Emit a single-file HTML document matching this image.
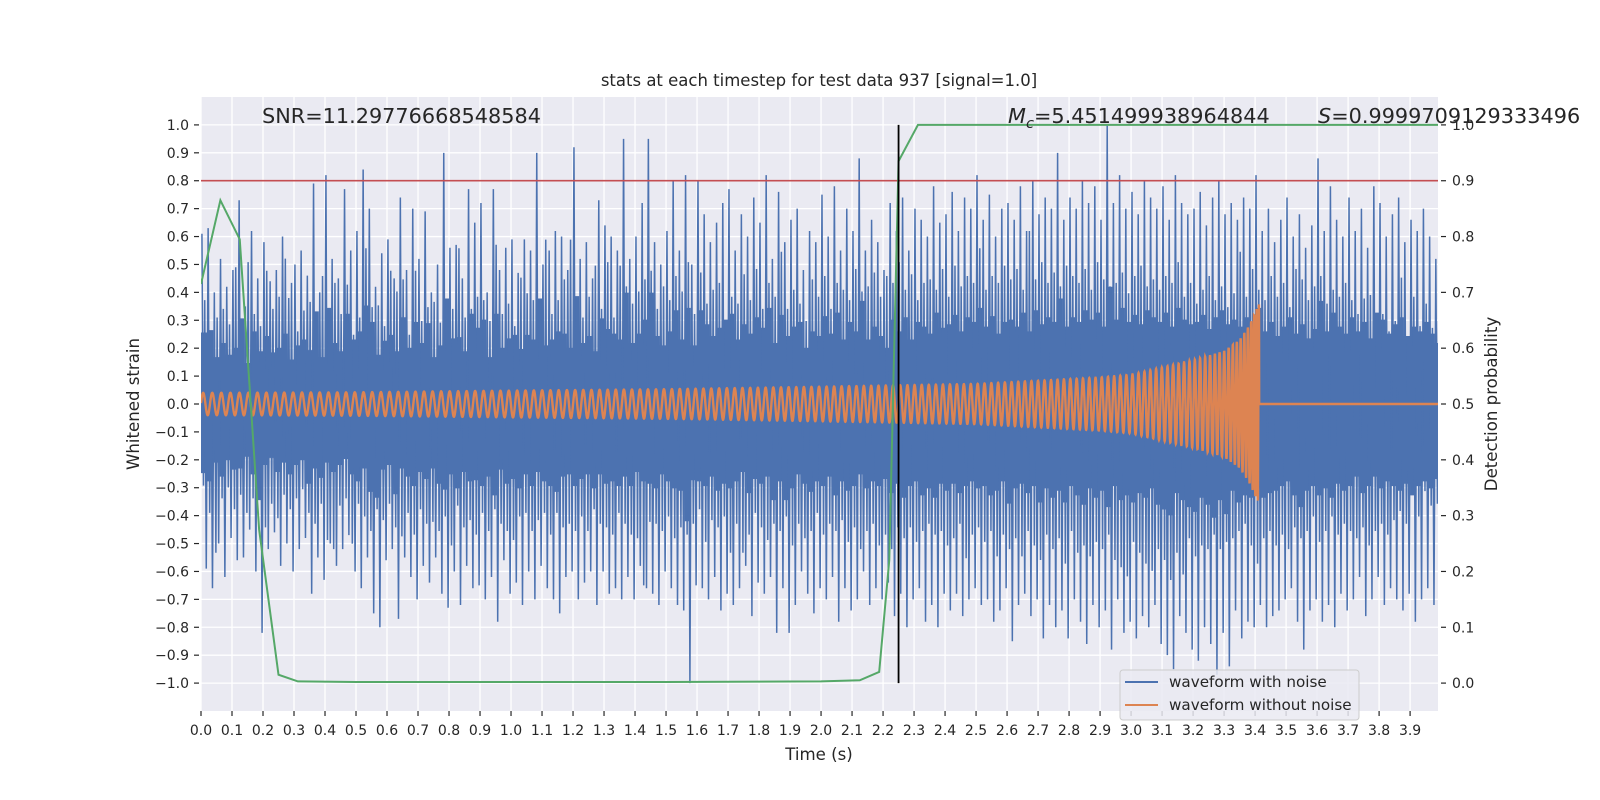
<!DOCTYPE html>
<html><head><meta charset="utf-8"><style>
body{margin:0;background:#fff;}
svg{display:block;font-family:"DejaVu Sans","Liberation Sans",sans-serif;}
</style></head><body>
<svg id="chart" width="1600" height="800" viewBox="0 0 1600 800" xmlns="http://www.w3.org/2000/svg">
<rect x="0" y="0" width="1600" height="800" fill="#fff"/>
<rect x="201" y="97" width="1237" height="614" fill="#eaeaf2"/>
<g id="grid"></g>
<g id="series" clip-path="url(#clip)"></g>
<defs><clipPath id="clip"><rect x="201" y="97" width="1237" height="614"/></clipPath></defs>
<g id="axes"></g>
<text x="819" y="86" text-anchor="middle" font-size="16.5" fill="#262626">stats at each timestep for test data 937 [signal=1.0]</text>
<text x="262" y="123" font-size="20.8" fill="#262626">SNR=11.29776668548584</text>
<text x="1008" y="123" font-size="20.8" fill="#262626"><tspan font-style="italic">M</tspan><tspan font-style="italic" font-size="14.5" dy="5">c</tspan><tspan dy="-5">=5.451499938964844</tspan></text>
<text x="1318" y="123" font-size="20.8" fill="#262626"><tspan font-style="italic">S</tspan>=0.9999709129333496</text>
<text transform="translate(139,404) rotate(-90)" text-anchor="middle" font-size="16.6" fill="#262626">Whitened strain</text>
<text transform="translate(1497,404) rotate(-90)" text-anchor="middle" font-size="16.6" fill="#262626">Detection probability</text>
<text x="819" y="760" text-anchor="middle" font-size="16.6" fill="#262626">Time (s)</text>
<g>
<rect x="1120" y="670" width="239" height="50" rx="3" fill="#eaeaf2" fill-opacity="0.85" stroke="#cccccc"/>
<line x1="1125" y1="682" x2="1158" y2="682" stroke="#4c72b0" stroke-width="2"/>
<text x="1169" y="687" font-size="15.2" fill="#262626">waveform with noise</text>
<line x1="1125" y1="705" x2="1158" y2="705" stroke="#dd8452" stroke-width="2"/>
<text x="1169" y="710" font-size="15.2" fill="#262626">waveform without noise</text>
</g>
</svg>
<script>
const noiseHi=[.61,.63,.40,.52,.42,.48,.73,.35,.62,.45,.58,.44,.48,.60,.38,.50,.55,.46,.79,.40,.82,.52,.45,.77,.55,.62,.84,.70,.42,.54,.59,.45,.74,.48,.70,.52,.69,.40,.50,.90,.56,.57,.45,.77,.65,.72,.40,.77,.48,.56,.59,.47,.59,.55,.90,.50,.55,.62,.60,.48,.92,.52,.58,.45,.73,.64,.60,.55,.95,.52,.60,.72,.95,.58,.50,.62,.80,.55,.82,.50,.80,.68,.58,.65,.72,.77,.55,.68,.60,.74,.65,.82,.52,.76,.58,.66,.70,.48,.62,.58,.75,.60,.78,.55,.70,.62,.88,.55,.66,.58,.48,.72,.62,.74,.55,.70,.66,.60,.78,.65,.68,.76,.62,.74,.70,.82,.66,.75,.60,.70,.72,.66,.78,.62,.80,.68,.74,.70,.90,.66,.74,.70,.80,.72,.78,.66,1.0,.72,.82,.70,.76,.68,.80,.74,.70,.78,.66,.82,.72,.68,.70,.76,.64,.74,.80,.68,.72,.66,.74,.70,.82,.62,.70,.58,.66,.74,.60,.68,.56,.64,.88,.62,.78,.66,.60,.74,.62,.70,.56,.78,.72,.60,.68,.74,.58,.66,.62,.70,.60,.52];
const noiseLo=[-.59,-.66,-.50,-.62,-.48,-.56,-.55,-.45,-.60,-.82,-.52,-.46,-.58,-.50,-.60,-.52,-.48,-.68,-.55,-.63,-.50,-.58,-.52,-.47,-.60,-.66,-.55,-.75,-.80,-.56,-.52,-.77,-.55,-.62,-.70,-.58,-.64,-.55,-.68,-.73,-.60,-.72,-.58,-.66,-.65,-.70,-.62,-.78,-.56,-.68,-.64,-.72,-.60,-.70,-.58,-.66,-.70,-.75,-.62,-.60,-.70,-.64,-.60,-.72,-.60,-.68,-.66,-.70,-.62,-.70,-.58,-.66,-.68,-.72,-.60,-.66,-.72,-.74,-1.0,-.65,-.66,-.70,-.62,-.74,-.68,-.72,-.66,-.58,-.76,-.64,-.68,-.62,-.82,-.66,-.82,-.72,-.60,-.68,-.75,-.66,-.70,-.62,-.78,-.66,-.74,-.70,-.60,-.72,-.66,-.70,-.64,-.76,-.68,-.80,-.70,-.66,-.78,-.72,-.80,-.68,-.74,-.68,-.76,-.70,-.66,-.72,-.70,-.78,-.74,-.66,-.85,-.72,-.68,-.76,-.70,-.84,-.72,-.80,-.74,-.84,-.70,-.78,-.86,-.72,-.80,-.74,-.88,-.70,-.82,-.78,-.84,-.76,-.80,-.72,-.86,-.90,-.95,-.76,-.82,-.88,-.92,-.80,-.86,-.97,-.82,-.94,-.74,-.84,-.78,-.80,-.72,-.80,-.76,-.74,-.70,-.66,-.78,-.88,-.74,-.70,-.78,-.72,-.80,-.68,-.74,-.70,-.62,-.76,-.70,-.62,-.72,-.66,-.70,-.74,-.68,-.78,-.70,-.66,-.72,-.64];
const noiseBin=0.02;
const envT=[0,0.5,1,1.5,2,2.5,2.9,3.0,3.2,3.3,3.35,3.38,3.413];
const envA=[0.04,0.042,0.048,0.053,0.062,0.072,0.095,0.105,0.157,0.19,0.23,0.28,0.36];
const freqT=[0,1,2,2.5,3,3.2,3.3,3.38,3.413];
const freqF=[34,37,41,45,51,58,68,90,140];
const chirpEnd=3.413;
const probT=[0,0.0625,0.125,0.1875,0.25,0.3125,0.5,1.0,1.5,2.0,2.125,2.1875,2.22,2.25,2.3125,3.0,3.99];
const probV=[0.715,0.865,0.795,0.275,0.015,0.003,0.002,0.002,0.002,0.003,0.005,0.02,0.22,0.935,1.0,1.0,1.0];
const detectT=2.25;
const threshold=0.8;
const xTicks=[...Array(40).keys()].map(i=>i/10);
const yTicks=[...Array(21).keys()].map(i=>-1+i/10);
const pTicks=[...Array(11).keys()].map(i=>i/10);

const NS='http://www.w3.org/2000/svg';
const X0=201,X1=1438,XMAX=3.99,Y0=711,Y1=97;
const xs=t=>X0+t/XMAX*(X1-X0);
const ys=v=>Y0-(v+1.1)/2.2*(Y0-Y1);
const ps=p=>ys(p*2-1);
function mk(tag,attrs,parent){const e=document.createElementNS(NS,tag);for(const k in attrs)e.setAttribute(k,attrs[k]);parent.appendChild(e);return e;}
function interp(T,V,t){if(t<=T[0])return V[0];for(let i=1;i<T.length;i++){if(t<=T[i]){const f=(t-T[i-1])/(T[i]-T[i-1]);return V[i-1]+f*(V[i]-V[i-1]);}}return V[V.length-1];}
const grid=document.getElementById('grid'),ser=document.getElementById('series'),axes=document.getElementById('axes');
xTicks.forEach(t=>{
  const g=mk('line',{x1:xs(t),x2:xs(t),y1:Y1,y2:Y0,stroke:'#fff','stroke-width':1.3},grid);
  
  
  const tk=mk('line',{x1:xs(t),x2:xs(t),y1:Y0,y2:Y0+5,stroke:'#262626','stroke-width':1.2},axes);
  
  
  const l=mk('text',{x:xs(t),y:Y0+24,'text-anchor':'middle','font-size':14,fill:'#262626'},axes);
  l.textContent=t.toFixed(1);
  
  
});
yTicks.forEach(v=>{
  const g=mk('line',{x1:X0,x2:X1,y1:ys(v),y2:ys(v),stroke:'#fff','stroke-width':1.3},grid);
  
  
  const tk=mk('line',{x1:X0-7,x2:X0-2,y1:ys(v),y2:ys(v),stroke:'#262626','stroke-width':1.2},axes);
  
  
  const l=mk('text',{x:X0-12,y:ys(v)+5,'text-anchor':'end','font-size':14,fill:'#262626'},axes);
  l.textContent=(v<-0.001?'\u2212':'')+Math.abs(v).toFixed(1);
  
  
});
pTicks.forEach(p=>{
  const tk=mk('line',{x1:X1+3,x2:X1+8,y1:ps(p),y2:ps(p),stroke:'#262626','stroke-width':1.2},axes);
  
  
  const l=mk('text',{x:X1+14,y:ps(p)+5,'font-size':14,fill:'#262626'},axes);
  l.textContent=p.toFixed(1);
  
  
});
// noisy waveform
const bw=xs(noiseBin)-xs(0);
let core='';
noiseHi.forEach((h,i)=>{
  const lo=noiseLo[i],x=xs(i*noiseBin);
  core+=`M${x},${ys(h*0.42)}h${bw}V${ys(lo*0.42)}h${-bw}Z`;
});
const c=mk('path',{d:core,fill:'#4c72b0'},ser);


let pts=[];
noiseHi.forEach((h,i)=>{
  pts.push(xs(i*noiseBin+noiseBin*0.15)+','+ys(h));
  pts.push(xs(i*noiseBin+noiseBin*0.4)+','+ys(noiseLo[(i+7)%noiseLo.length]*0.65));
  pts.push(xs(i*noiseBin+noiseBin*0.6)+','+ys(noiseHi[(i+13)%noiseHi.length]*0.62));
  pts.push(xs(i*noiseBin+noiseBin*0.85)+','+ys(noiseLo[i]));
});
const nl=mk('polyline',{points:pts.join(' '),fill:'none',stroke:'#4c72b0','stroke-width':1.5},ser);


// clean chirp
let cp=[],ph=0,dt=0.0004;
for(let t=0;t<=XMAX;t+=dt){
  let v=0;
  if(t<=chirpEnd){ph+=2*Math.PI*interp(freqT,freqF,t)*dt;v=interp(envT,envA,t)*Math.sin(ph);}
  cp.push(xs(t).toFixed(2)+','+ys(v).toFixed(2));
}
const cl=mk('polyline',{points:cp.join(' '),fill:'none',stroke:'#dd8452','stroke-width':2.4},ser);


// threshold
const th=mk('line',{x1:X0,x2:X1,y1:ys(threshold),y2:ys(threshold),stroke:'#c44e52','stroke-width':1.6},ser);


// detection probability
const gp=mk('polyline',{points:probT.map((t,i)=>xs(t)+','+ps(probV[i])).join(' '),fill:'none',stroke:'#55a868','stroke-width':2},ser);


const dl=mk('line',{x1:xs(detectT),x2:xs(detectT),y1:ys(1),y2:ys(-1),stroke:'#000','stroke-width':1.8},ser);


</script>
</body></html>
